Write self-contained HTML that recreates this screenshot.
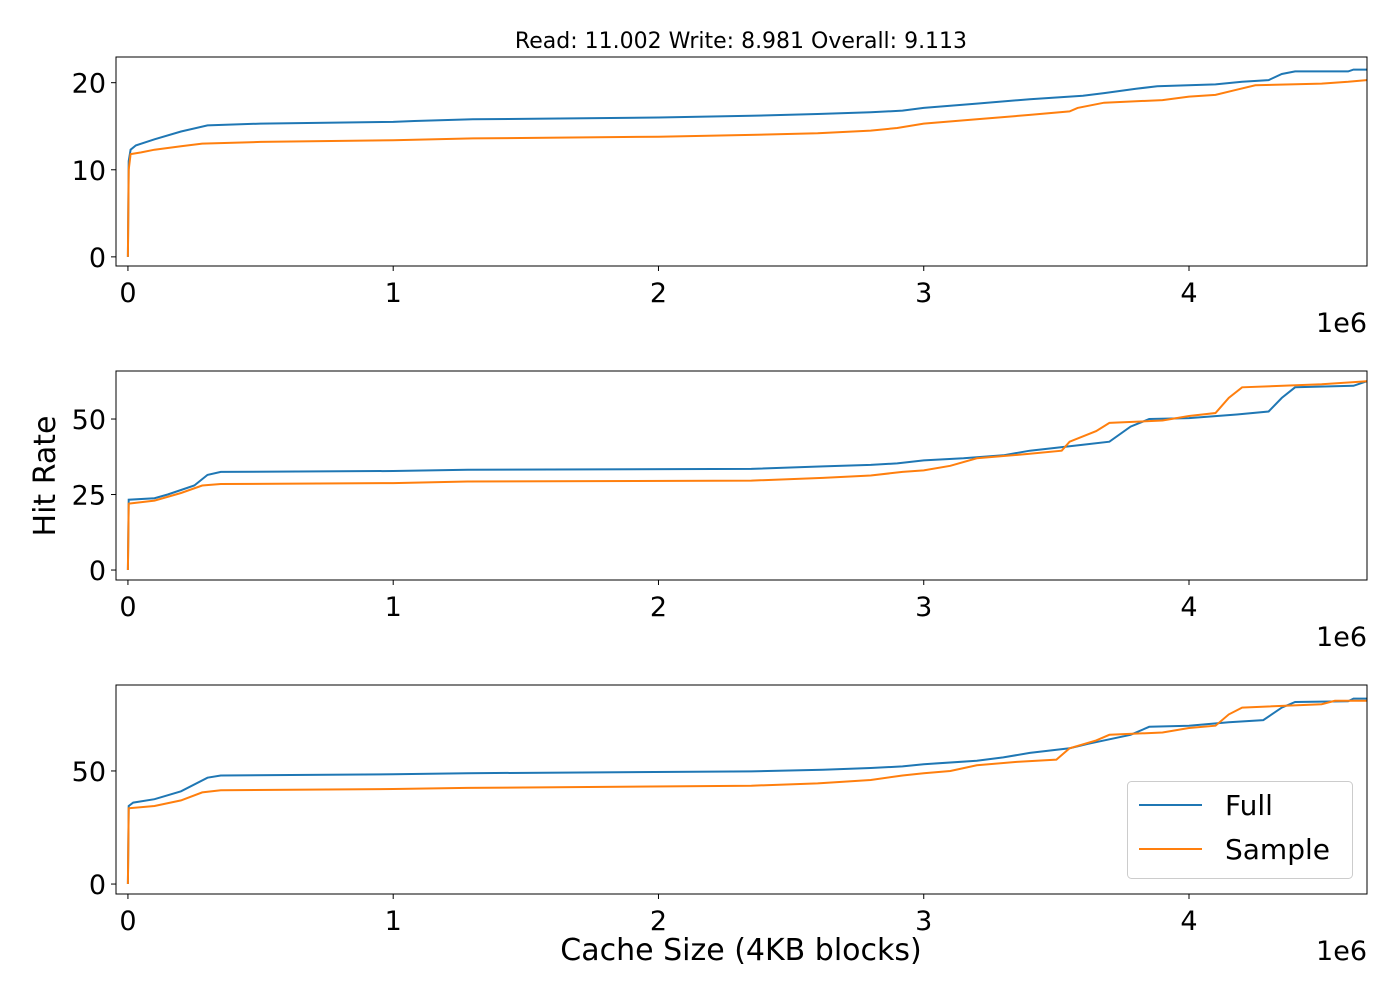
<!DOCTYPE html>
<html><head><meta charset="utf-8"><style>
body{margin:0;background:#fff;}
svg{display:block;font-family:"DejaVu Sans","Liberation Sans",sans-serif;}
</style></head><body>
<svg id="chart" width="1400" height="1000" viewBox="0 0 1400 1000" xmlns="http://www.w3.org/2000/svg">
<text x="741" y="48" font-size="22" text-anchor="middle">Read: 11.002 Write: 8.981 Overall: 9.113</text>
<text x="55" y="476" font-size="30" text-anchor="middle" transform="rotate(-90 55 476)">Hit Rate</text>
<text x="741" y="960" font-size="30" text-anchor="middle">Cache Size (4KB blocks)</text>
</svg>
<script>
// x values in units of 1e6 blocks
const readFullX=[0,0.003,0.01,0.03,0.1,0.2,0.3,0.5,1.0,1.08,1.3,2.0,2.35,2.6,2.8,2.92,3.0,3.2,3.4,3.6,3.68,3.8,3.88,4.1,4.2,4.3,4.35,4.4,4.6,4.62,4.67];
const readFullY=[0,11,12.3,12.8,13.5,14.4,15.1,15.3,15.5,15.6,15.8,16.0,16.2,16.4,16.6,16.8,17.1,17.6,18.1,18.5,18.8,19.3,19.6,19.8,20.1,20.3,21.0,21.3,21.3,21.5,21.5];
const readSampleX=[0,0.003,0.01,0.05,0.1,0.2,0.28,0.5,1.0,1.3,2.0,2.35,2.6,2.8,2.9,3.0,3.2,3.4,3.55,3.58,3.68,3.9,4.0,4.1,4.18,4.25,4.5,4.6,4.67];
const readSampleY=[0,10,11.8,12.0,12.3,12.7,13.0,13.2,13.4,13.6,13.8,14.0,14.2,14.5,14.8,15.3,15.8,16.3,16.7,17.1,17.7,18.0,18.4,18.6,19.2,19.7,19.9,20.1,20.3];
const writeFullX=[0,0.003,0.1,0.15,0.2,0.25,0.3,0.35,1.0,1.28,2.35,2.62,2.8,2.9,3.0,3.15,3.3,3.4,3.5,3.6,3.7,3.78,3.85,4.0,4.18,4.3,4.35,4.4,4.62,4.67];
const writeFullY=[0,23.3,23.8,25,26.5,28,31.5,32.5,32.8,33.2,33.5,34.3,34.8,35.3,36.3,37,38,39.5,40.5,41.5,42.5,47.5,50,50.3,51.5,52.5,57,60.5,61,62.5];
const writeSampleX=[0,0.003,0.1,0.2,0.28,0.35,1.0,1.28,2.35,2.62,2.8,2.92,3.0,3.1,3.2,3.4,3.52,3.55,3.65,3.7,3.9,4.0,4.1,4.15,4.2,4.5,4.67];
const writeSampleY=[0,22,23,25.5,28,28.5,28.8,29.3,29.6,30.5,31.3,32.5,33,34.5,37,38.5,39.5,42.5,46,48.7,49.5,51,52,57,60.5,61.5,62.5];
const allFullX=[0,0.003,0.02,0.1,0.2,0.3,0.35,1.0,1.28,2.35,2.62,2.8,2.92,3.0,3.2,3.3,3.4,3.55,3.62,3.7,3.78,3.85,4.0,4.15,4.28,4.35,4.4,4.6,4.62,4.67];
const allFullY=[0,34.5,36,37.5,41,47,48,48.5,49,49.8,50.5,51.3,52,53,54.5,56,58,60,62,64,66,69.5,70,71.5,72.5,78,80.5,80.8,82,82];
const allSampleX=[0,0.003,0.1,0.2,0.28,0.35,1.0,1.28,2.35,2.6,2.8,2.92,3.0,3.1,3.2,3.35,3.5,3.55,3.65,3.7,3.9,4.0,4.1,4.15,4.2,4.5,4.55,4.67];
const allSampleY=[0,33.5,34.5,37,40.5,41.5,42,42.5,43.5,44.5,46,48,49,50,52.5,54,55,60,63.5,66,67,69,70,75,78,79.5,81,81];
const xTicks=[0,1,2,3,4];
const readTicks=[0,10,20];
const writeTicks=[0,25,50];
const allTicks=[0,50];

const NS="http://www.w3.org/2000/svg";
const svg=document.getElementById('chart');
function mk(tag,attrs,parent){const e=document.createElementNS(NS,tag);for(const k in attrs)e.setAttribute(k,attrs[k]);(parent||svg).appendChild(e);return e;}
const L=116,R=1367,xmin=-0.045,xmax=4.671;
const xs=v=>L+(v-xmin)/(xmax-xmin)*(R-L);
const panels=[
 {top:57,bot:266,ymin:-1.05,ymax:22.95,ticks:readTicks,f:[readFullX,readFullY],s:[readSampleX,readSampleY],name:'read'},
 {top:371,bot:580,ymin:-3.3,ymax:65.9,ticks:writeTicks,f:[writeFullX,writeFullY],s:[writeSampleX,writeSampleY],name:'write'},
 {top:685,bot:894,ymin:-4.4,ymax:88,ticks:allTicks,f:[allFullX,allFullY],s:[allSampleX,allSampleY],name:'overall'}
];
panels.forEach(p=>{
 const ys=v=>p.bot-(v-p.ymin)/(p.ymax-p.ymin)*(p.bot-p.top);
 const g=mk('g',{});
 
 
 [[p.f,'#1f77b4','full'],[p.s,'#ff7f0e','sample']].forEach(([d,c,n])=>{
  let pts=d[0].map((x,i)=>xs(x).toFixed(1)+','+ys(d[1][i]).toFixed(1)).join(' ');
  const pl=mk('polyline',{points:pts,fill:'none',stroke:c,'stroke-width':2},g);
  
  
 });
 const fr=mk('rect',{x:L,y:p.top,width:R-L,height:p.bot-p.top,fill:'none',stroke:'#000','stroke-width':1},g);
 
 
 xTicks.forEach(t=>{
  const x=xs(t);
  mk('line',{x1:x,x2:x,y1:p.bot,y2:p.bot+5,stroke:'#000'},g);
  const tx=mk('text',{x:x,y:p.bot+36,'font-size':27,'text-anchor':'middle'},g);
  tx.textContent=t;
  
  
 });
 p.ticks.forEach(t=>{
  const y=ys(t);
  mk('line',{x1:L-5,x2:L,y1:y,y2:y,stroke:'#000'},g);
  const tx=mk('text',{x:L-10,y:y+10,'font-size':27,'text-anchor':'end'},g);
  tx.textContent=t;
  
  
 });
 const e=mk('text',{x:R,y:p.bot+66,'font-size':27,'text-anchor':'end'},g);
 e.textContent='1e6';
 
 
});
const lg=mk('g',{});


mk('rect',{x:1127.5,y:781.5,width:225,height:97,rx:4,fill:'#fff','fill-opacity':0.8,stroke:'#ccc'},lg);
[['Full','#1f77b4',805],['Sample','#ff7f0e',849]].forEach(([n,c,y])=>{
 mk('line',{x1:1139,x2:1202,y1:y,y2:y,stroke:c,'stroke-width':2},lg);
 const t=mk('text',{x:1225,y:y+10,'font-size':28},lg);
 t.textContent=n;
 
 
});
</script>
</body></html>
